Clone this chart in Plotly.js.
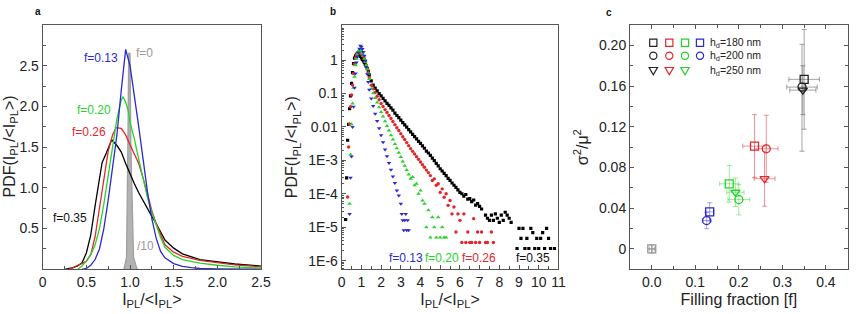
<!DOCTYPE html>
<html><head><meta charset="utf-8">
<script src="https://cdn.plot.ly/plotly-3.0.1.min.js"></script>
<style>html,body{margin:0;padding:0;background:#fff}#chart{width:856px;height:314px}</style>
</head><body><div id="chart"></div>
<script>
// ---------- Panel a : PDF curves (linear) ----------
const aBlueX  = [0.45,0.5,0.55,0.6,0.65,0.7,0.75,0.8,0.85,0.9,0.95,1.0,1.05,1.1,1.15,1.2,1.25,1.3,1.35,1.4,1.5,1.6,1.7,1.8,2.0,2.5];
const aBlueY  = [0,0.01,0.05,0.12,0.25,0.5,0.85,1.25,1.65,2.2,2.7,2.5,2.15,1.75,1.35,0.95,0.62,0.38,0.22,0.14,0.07,0.035,0.02,0.01,0.004,0];
const aGreenX = [0.4,0.45,0.5,0.55,0.6,0.65,0.7,0.75,0.8,0.85,0.9,0.92,0.95,0.98,1.0,1.05,1.1,1.15,1.2,1.25,1.3,1.35,1.4,1.5,1.6,1.8,2.0,2.2,2.5];
const aGreenY = [0,0.04,0.1,0.18,0.3,0.5,0.8,1.15,1.55,1.85,2.08,2.12,2.05,1.95,1.8,1.6,1.35,1.1,0.88,0.7,0.53,0.39,0.27,0.17,0.12,0.075,0.05,0.03,0.015];
const aRedX   = [0.3,0.35,0.4,0.45,0.5,0.55,0.6,0.65,0.7,0.75,0.8,0.84,0.9,0.95,1.0,1.05,1.1,1.15,1.2,1.25,1.3,1.35,1.4,1.5,1.6,1.8,2.0,2.2,2.5];
const aRedY   = [0,0.02,0.05,0.07,0.1,0.18,0.4,0.75,1.15,1.45,1.65,1.74,1.73,1.65,1.53,1.42,1.3,1.12,0.92,0.72,0.56,0.42,0.3,0.21,0.16,0.11,0.08,0.055,0.03];
const aBlackX = [0.25,0.3,0.35,0.4,0.45,0.5,0.55,0.6,0.65,0.68,0.73,0.79,0.85,0.9,0.95,1.0,1.05,1.1,1.15,1.2,1.25,1.3,1.35,1.4,1.5,1.6,1.8,2.0,2.2,2.5];
const aBlackY = [0,0.01,0.02,0.04,0.08,0.2,0.42,0.78,1.15,1.31,1.43,1.59,1.52,1.44,1.3,1.17,1.05,0.94,0.84,0.74,0.65,0.56,0.46,0.36,0.26,0.19,0.12,0.09,0.065,0.04];
const aGrayX  = [0.93,0.96,0.975,0.985,1.0,1.01,1.04,1.08];
const aGrayY  = [0,0.15,1.5,2.65,2.65,1.5,0.15,0];

// ---------- Panel b : PDF points (log) ----------
const bBlackX = [0.2,0.25,0.3,0.35,0.4,0.45,0.5,0.55,0.6,0.65,0.7,0.75,0.8,0.85,0.9,0.95,1.0,1.05,1.1,1.15,1.2,1.25,1.3,1.35,1.4,
 1.5,1.6,1.7,1.8,1.9,2.0,2.1,2.2,2.3,2.4,2.5,2.6,2.7,2.8,2.9,3.0,3.1,3.2,3.3,3.4,3.5,3.6,3.7,3.8,3.9,4.0,4.1,4.2,4.3,4.4,
 4.5,4.6,4.7,4.8,4.9,5.0,5.1,5.2,5.3,5.4,5.5,5.6,5.7,5.8,5.9,6.0,6.1,6.2,6.3,6.4,6.5,6.6,6.7,6.8,6.9,7.0,7.1,
 7.3,7.4,7.5,7.6,7.7,7.8,7.9,8.0,8.1,8.2,8.3,8.4,8.5,8.6,
 8.9,9.0,9.1,9.2,9.3,9.4,9.5,9.6,9.7,9.8,9.9,10.0,10.1,10.2,10.3,10.4,10.5,10.6,10.8];
const bBlackY = [1.7e-5,3e-4,4e-3,0.012,0.035,0.085,0.2,0.42,0.78,1.15,1.35,1.48,1.58,1.52,1.44,1.3,1.17,1.05,0.94,0.84,0.74,0.65,0.56,0.46,0.36,
 0.24,0.178,0.145,0.12,0.1,0.085,0.072,0.06,0.051,0.044,0.037,0.032,0.026,0.022,0.019,0.016,0.0135,0.0115,0.0098,0.0083,
 0.0071,0.006,0.0051,0.0044,0.0037,0.0032,0.0027,0.0023,0.0019,0.00166,
 0.0014,0.00117,9.8e-4,8.1e-4,6.8e-4,5.6e-4,4.8e-4,4.1e-4,3.5e-4,2.9e-4,
 2.5e-4,2.1e-4,1.8e-4,1.55e-4,1.3e-4,1.1e-4,1.0e-4,8.5e-5,9.5e-5,6.9e-5,
 7.2e-5,5.8e-5,6.5e-5,4.6e-5,5.1e-5,4.2e-5,3.5e-5,
 2.3e-5,1.85e-5,1.6e-5,2.3e-5,1.6e-5,2.5e-5,1.85e-5,1.4e-5,2.3e-5,1.6e-5,2.8e-5,2.3e-5,1.85e-5,1.4e-5,
 2.3e-6,9.2e-6,4.6e-6,9.2e-6,2.3e-6,4.6e-6,2.3e-6,9.2e-6,6.9e-6,2.3e-6,4.6e-6,2.3e-6,4.6e-6,6.9e-6,2.3e-6,9.2e-6,4.6e-6,2.3e-6,2.3e-6];
const bRedX = [0.3,0.35,0.4,0.45,0.5,0.55,0.6,0.65,0.7,0.75,0.8,0.85,0.9,0.95,1.0,1.05,1.1,1.15,1.2,1.25,1.3,1.35,1.4,
 1.5,1.6,1.7,1.8,1.9,2.0,2.1,2.2,2.3,2.4,2.5,2.6,2.7,2.8,2.9,3.0,3.1,3.2,3.3,3.4,3.5,3.6,3.7,3.8,3.9,4.0,4.1,4.2,4.3,4.4,4.5,
 4.6,4.7,4.8,4.9,5.0,5.1,5.2,5.3,5.4,5.5,5.6,5.7,5.8,5.9,6.0,
 6.1,6.2,6.3,6.4,6.5,6.6,6.7,6.8,6.9,7.0,7.1,7.3,7.4,7.6,7.7];
const bRedY = [8e-5,2.5e-3,0.012,0.04,0.09,0.18,0.4,0.75,1.15,1.45,1.65,1.74,1.73,1.65,1.53,1.42,1.3,1.12,0.92,0.72,0.56,0.42,0.3,
 0.178,0.138,0.107,0.083,0.065,0.05,0.041,0.033,0.027,0.022,0.0178,0.0145,0.0117,0.0095,0.0078,0.0063,0.0051,0.0042,0.0034,0.00275,
 0.00224,0.00186,0.00155,0.00129,0.00107,8.9e-4,7.4e-4,6.2e-4,5.1e-4,4.3e-4,3.5e-4,
 2.5e-4,2.8e-4,1.8e-4,2.0e-4,1.1e-4,1.4e-4,7.9e-5,1e-4,4.5e-5,6.3e-5,2.5e-5,4.0e-5,7.2e-6,2.5e-5,1.6e-5,
 3.5e-6,2.5e-5,3.5e-6,7.2e-6,3.5e-6,3.5e-6,1.8e-5,3.5e-6,7.2e-6,3.5e-6,7.2e-6,3.5e-6,3.5e-6,7.2e-6,3.5e-6];
const bGreenX = [0.4,0.45,0.5,0.55,0.6,0.65,0.7,0.75,0.8,0.85,0.9,0.95,1.0,1.05,1.1,1.15,1.2,1.25,1.3,1.35,1.4,
 1.5,1.6,1.7,1.8,1.9,2.0,2.1,2.2,2.3,2.4,2.5,2.6,2.7,2.8,2.9,3.0,3.1,3.2,3.3,3.4,
 3.5,3.6,3.7,3.8,3.9,4.0,4.1,4.2,4.3,4.4,4.5,4.6,4.7,4.8,4.9,5.0,5.1,5.2,5.3];
const bGreenY = [5e-5,1.5e-3,0.012,0.05,0.15,0.32,0.7,1.1,1.5,1.85,2.08,2.05,1.8,1.6,1.35,1.1,0.88,0.7,0.53,0.39,0.27,
 0.14,0.102,0.074,0.054,0.039,0.028,0.0204,0.0148,0.0107,0.0078,0.0056,0.0042,0.0031,0.0023,0.0017,0.00126,9.3e-4,6.9e-4,5.1e-4,3.8e-4,
 2.8e-4,3.2e-4,1.8e-4,2.0e-4,1e-4,1.26e-4,6.3e-5,5e-5,1.0e-5,3.2e-5,4.9e-6,2e-5,1e-5,4.9e-6,2e-5,4.9e-6,1e-5,4.9e-6,4.9e-6];
const bBlueX = [0.4,0.45,0.5,0.55,0.6,0.65,0.7,0.75,0.8,0.85,0.9,0.95,1.0,1.05,1.1,1.15,1.2,1.25,1.3,1.35,1.4,
 1.5,1.6,1.7,1.8,1.9,2.0,2.1,2.2,2.3,2.4,2.5,2.6,2.7,2.8,2.9,3.0,
 3.05,3.1,3.15,3.2,3.25,3.3,3.35,3.4];
const bBlueY = [2.5e-5,3e-4,1.3e-3,0.01,0.04,0.15,0.4,0.85,1.25,1.65,2.2,2.7,2.5,2.15,1.75,1.35,0.95,0.62,0.38,0.22,0.13,
 0.071,0.042,0.025,0.015,0.0091,0.0056,0.0035,0.0021,0.00132,8.3e-4,5.2e-4,3.3e-4,2.1e-4,1.26e-4,8.9e-5,5e-5,
 2.5e-5,1.6e-5,8.1e-6,1.6e-5,2.5e-5,8.1e-6,1.6e-5,8.1e-6];
const bTickVals = [1e-6,1e-5,1e-4,1e-3,0.01,0.1,1];
const bTickText = ['1E-6','1E-5','1E-4','1E-3','0.01','0.1','1'];

// ---------- Panel c : sigma^2/mu^2 vs filling fraction ----------
const cSymbols = ['square-open','circle-open','triangle-down-open'];
const cBlackF  = [0.350,0.345,0.347], cBlackS = [0.1666,0.159,0.156];
const cBlackEx = [0.035,0.035,0.03],  cBlackEy = [0.049,0.042,0.024], cBlackEyMinus = [0.049,0.063,0.024];
const cRedF    = [0.236,0.263,0.259], cRedS   = [0.101,0.0984,0.069];
const cRedEx   = [0.027,0.027,0.024], cRedEy  = [0.031,0.033,0.027];
const cGreenF  = [0.178,0.200,0.192], cGreenS = [0.064,0.0485,0.0557];
const cGreenEx = [0.022,0.025,0.02],  cGreenEy= [0.018,0.015,0.014];
const cBlueF   = [0.133,0.126],       cBlueS  = [0.0364,0.0279];
const cBlueEx  = [0.01,0.01],         cBlueEy = [0.009,0.008];
const cGrayF   = [0.0], cGrayS = [0.0], cGrayEx = [0.006], cGrayEy = [0.004];
const legendRows = ['h<sub>d</sub>=180 nm','h<sub>d</sub>=200 nm','h<sub>d</sub>=250 nm'];

const COL = {black:'#111', red:'#e3262b', green:'#27d22a', blue:'#2a2ad0', gray:'#9a9a9a'};
const FONT = 'Arial, "Liberation Sans", Helvetica, sans-serif';

function line(x,y,color,xa,ya,extra){return Object.assign({x:x,y:y,type:'scatter',mode:'lines',line:{color:color,width:1.3},xaxis:xa,yaxis:ya,hoverinfo:'skip'},extra||{});}
function pts(x,y,color,sym,size){return {x:x,y:y,type:'scatter',mode:'markers',marker:{color:color,symbol:sym,size:size,line:{width:0}},xaxis:'x2',yaxis:'y2',hoverinfo:'skip'};}
function cpts(x,y,ex,ey,eym,color,errColor,syms){
  return {x:x,y:y,type:'scatter',mode:'markers',xaxis:'x3',yaxis:'y3',hoverinfo:'skip',
    marker:{symbol:syms,size:8,color:color,line:{color:color,width:1.3}},
    error_x:{type:'data',array:ex,color:errColor,thickness:1,width:2.5},
    error_y:Object.assign({type:'data',array:ey,color:errColor,thickness:1,width:2.5}, eym?{symmetric:false,arrayminus:eym}:{})};
}

const traces = [
  line(aGrayX,aGrayY,COL.gray,'x','y',{fill:'tozeroy',fillcolor:'rgba(160,160,160,0.8)',line:{color:'#a0a0a0',width:1.3}}),
  line(aBlackX,aBlackY,'#000','x','y'),
  line(aRedX,aRedY,COL.red,'x','y'),
  line(aGreenX,aGreenY,COL.green,'x','y'),
  line(aBlueX,aBlueY,COL.blue,'x','y'),
  pts(bBlackX,bBlackY,'#000','square',3.2),
  pts(bRedX,bRedY,COL.red,'circle',3.4),
  pts(bGreenX,bGreenY,COL.green,'triangle-up',4),
  pts(bBlueX,bBlueY,COL.blue,'triangle-down',4),
  cpts(cGrayF,cGrayS,cGrayEx,cGrayEy,null,COL.gray,'rgba(150,150,150,0.8)',['square-cross-open']),
  cpts(cBlueF,cBlueS,cBlueEx,cBlueEy,null,COL.blue,'rgba(60,60,210,0.45)',cSymbols.slice(0,2)),
  cpts(cGreenF,cGreenS,cGreenEx,cGreenEy,null,COL.green,'rgba(40,210,40,0.45)',cSymbols),
  cpts(cRedF,cRedS,cRedEx,cRedEy,null,COL.red,'rgba(225,40,45,0.5)',cSymbols),
  cpts(cBlackF,cBlackS,cBlackEx,cBlackEy,cBlackEyMinus,'#222','rgba(90,90,90,0.55)',cSymbols)
];

const W=856,H=314;
const px = v=>v/W, py = v=>1-v/H;
const yDom=[py(269.3),py(25)];
const axBase = {showline:true,linecolor:'#555',linewidth:1,ticks:'inside',ticklen:4,tickcolor:'#555',tickwidth:1,
  showgrid:false,zeroline:false,tickfont:{family:FONT,size:14,color:'#222'},fixedrange:true};
const titleFont = {family:FONT,size:16,color:'#222'};
const minorTicks = [];
for(let d=-7; d<=1; d++){ for(let k=2;k<=9;k++){ minorTicks.push(k*Math.pow(10,d)); } }

const layout = {
  width:W,height:H,margin:{l:0,r:0,t:0,b:0},paper_bgcolor:'#fff',plot_bgcolor:'#fff',showlegend:false,
  font:{family:FONT,color:'#222'},
  xaxis:Object.assign({},axBase,{domain:[px(42.7),px(261)],anchor:'y',range:[0,2.5],mirror:true,
    tickmode:'array',tickvals:[0,0.5,1,1.5,2,2.5],ticktext:['0','0.5','1.0','1.5','2.0','2.5'],
    minor:{tickmode:'linear',tick0:0,dtick:0.25,ticks:'inside',ticklen:3,tickcolor:'#555'},
    title:{text:'I<sub>PL</sub>/&lt;I<sub>PL</sub>&gt;',font:titleFont,standoff:4}}),
  yaxis:Object.assign({},axBase,{domain:yDom,anchor:'x',range:[0,3.0],mirror:true,
    tickmode:'array',tickvals:[0.5,1,1.5,2,2.5],ticktext:['0.5','1.0','1.5','2.0','2.5'],
    minor:{tickmode:'linear',tick0:0,dtick:0.25,ticks:'inside',ticklen:3,tickcolor:'#555'}}),
  xaxis2:Object.assign({},axBase,{domain:[px(341.7),px(558.4)],anchor:'y2',range:[0,11],mirror:true,
    tickmode:'linear',tick0:0,dtick:1,
    minor:{tickmode:'linear',tick0:0,dtick:0.5,ticks:'inside',ticklen:3,tickcolor:'#555'},
    title:{text:'I<sub>PL</sub>/&lt;I<sub>PL</sub>&gt;',font:titleFont,standoff:4}}),
  yaxis2:Object.assign({},axBase,{domain:yDom,anchor:'x2',type:'log',range:[-6.26,1.05],mirror:true,
    tickmode:'array',tickvals:bTickVals,ticktext:bTickText,
    minor:{tickmode:'array',tickvals:minorTicks,ticks:'inside',ticklen:2,tickcolor:'#555'},
    title:{text:'PDF(I<sub>PL</sub>/&lt;I<sub>PL</sub>&gt;)',font:titleFont,standoff:6}}),
  xaxis3:Object.assign({},axBase,{domain:[px(630),px(847.7)],anchor:'y3',range:[-0.05,0.45],mirror:'ticks',
    tickmode:'array',tickvals:[0,0.1,0.2,0.3,0.4],ticktext:['0.0','0.1','0.2','0.3','0.4'],
    minor:{tickmode:'linear',tick0:0,dtick:0.05,ticks:'inside',ticklen:3,tickcolor:'#555'},
    title:{text:'Filling fraction [f]',font:titleFont,standoff:4}}),
  yaxis3:Object.assign({},axBase,{domain:yDom,anchor:'x3',range:[-0.02,0.22],mirror:'ticks',
    tickmode:'array',tickvals:[0,0.04,0.08,0.12,0.16,0.2],ticktext:['0','0.04','0.08','0.12','0.16','0.20'],
    minor:{tickmode:'linear',tick0:0,dtick:0.02,ticks:'inside',ticklen:3,tickcolor:'#555'},
    title:{text:'σ<sup>2</sup>/μ<sup>2</sup>',font:titleFont,standoff:6}}),
  annotations:[], shapes:[]
};

const A = layout.annotations;
function lab(text,x,y,color,xa,ya,anchor,size){A.push({text:text,x:x,y:y,xref:xa,yref:ya,xanchor:anchor,yanchor:'middle',showarrow:false,font:{family:FONT,size:size||12,color:color}});}
// panel a y-axis title (at the figure's left edge as in the reference)
A.push({text:'PDF(I<sub>PL</sub>/&lt;I<sub>PL</sub>&gt;)',x:px(9.5),y:py(147),xref:'paper',yref:'paper',xanchor:'center',yanchor:'middle',
  textangle:-90,showarrow:false,font:titleFont});
// panel letters
lab('<b>a</b>',px(38),py(11.7),'#111','paper','paper','center',10);
lab('<b>b</b>',px(333),py(11.7),'#111','paper','paper','center',10);
lab('<b>c</b>',px(609),py(12.7),'#111','paper','paper','center',10);
// panel a labels
lab('f=0.13',0.885,2.6,COL.blue,'x','y','right',12);
lab('f=0',1.04,2.65,COL.gray,'x','y','left',12);
lab('f=0.20',0.81,1.96,COL.green,'x','y','right',12);
lab('f=0.26',0.75,1.68,COL.red,'x','y','right',12);
lab('f=0.35',0.534,0.63,'#111','x','y','right',12);
lab('/10',1.057,0.29,COL.gray,'x','y','left',12);
// panel b labels (log axis: y in log10 units)
lab('f=0.13',2.28,-5.92,COL.blue,'x2','y2','left',12);
lab('f=0.20',4.13,-5.92,COL.green,'x2','y2','left',12);
lab('f=0.26',6.0,-5.92,COL.red,'x2','y2','left',12);
lab('f=0.35',10.7,-5.92,'#111','x2','y2','right',12);
// panel c legend: marker swatches drawn as shapes, labels as text
const legX=[653.3,669.3,685,700], legY=[42.7,55.7,71];
const legCols=['#222',COL.red,COL.green,COL.blue];
const S = layout.shapes, hs = 3.6;
for(let r=0;r<3;r++){
  const n = r<2?4:3;
  for(let i=0;i<n;i++){
    const cx=legX[i], cy=legY[r], c=legCols[i];
    const base={xref:'paper',yref:'paper',line:{color:c,width:1.2},fillcolor:'rgba(0,0,0,0)'};
    if(r===0) S.push(Object.assign({type:'rect',x0:px(cx-hs),x1:px(cx+hs),y0:py(cy+hs),y1:py(cy-hs)},base));
    else if(r===1) S.push(Object.assign({type:'circle',x0:px(cx-hs),x1:px(cx+hs),y0:py(cy+hs),y1:py(cy-hs)},base));
    else S.push(Object.assign({type:'path',path:`M ${px(cx-4.2)} ${py(cy-3.5)} L ${px(cx+4.2)} ${py(cy-3.5)} L ${px(cx)} ${py(cy+3.8)} Z`},base));
  }
  lab(legendRows[r],px(708),py(legY[r]),'#222','paper','paper','left',10.5);
}

Plotly.newPlot('chart',traces,layout,{staticPlot:true,displayModeBar:false});
</script></body></html>
